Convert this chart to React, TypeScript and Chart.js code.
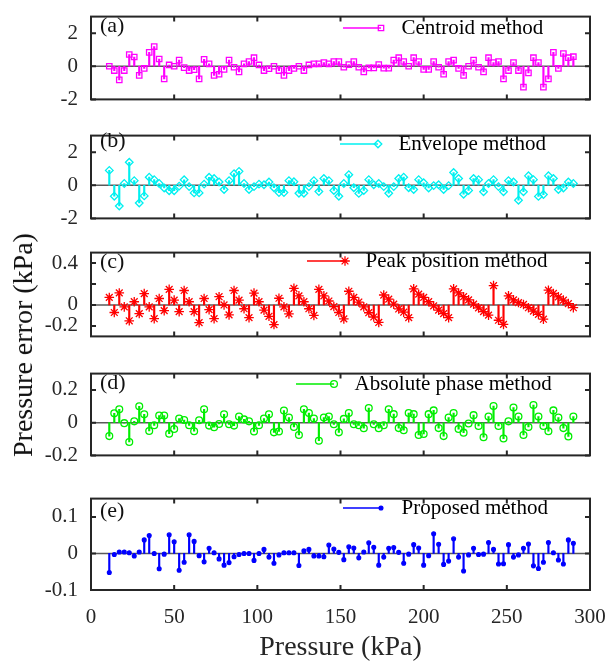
import React, { useEffect, useRef } from "react";
import { Chart, registerables } from "chart.js";
import { drawPoint } from "chart.js/helpers";

Chart.register(...registerables);

// ---------------- data ----------------
const PRESSURE = [
  11, 14, 17, 20, 23, 26, 29, 32, 35, 38, 41, 44, 47, 50, 53, 56, 59, 62, 65, 68,
  71, 74, 77, 80, 83, 86, 89, 92, 95, 98, 101, 104, 107, 110, 113, 116, 119, 122, 125, 128,
  131, 134, 137, 140, 143, 146, 149, 152, 155, 158, 161, 164, 167, 170, 173, 176, 179, 182, 185, 188,
  191, 194, 197, 200, 203, 206, 209, 212, 215, 218, 221, 224, 227, 230, 233, 236, 239, 242, 245, 248,
  251, 254, 257, 260, 263, 266, 269, 272, 275, 278, 281, 284, 287, 290,
];

const CENTROID = [
  0, -0.26, -0.82, -0.26, 0.71, 0.56, -0.55, -0.13, 0.84, 1.19, 0.44, -0.76, 0.08, 0, 0.37, -0.08,
  -0.26, -0.21, -0.76, 0.42, 0.15, -0.55, -0.48, -0.19, 0.37, -0.06, -0.34, 0.15, 0.29, 0.52, 0.08, -0.26,
  -0.15, 0, -0.26, -0.55, -0.26, -0.13, 0, -0.26, 0.08, 0.15, 0.15, 0.23, 0.15, 0.29, 0.29, -0.06,
  0.1, 0.29, -0.06, -0.34, -0.1, -0.1, 0.1, -0.11, -0.11, 0.37, 0.52, 0.29, 0, 0.52, 0.29, -0.19,
  -0.19, 0.29, -0.06, -0.48, 0.29, 0.37, -0.13, -0.55, 0, 0.37, -0.06, -0.34, 0.52, 0.23, 0.29, -0.76,
  -0.26, 0.23, -0.26, -1.26, -0.4, 0.52, 0.23, -1.26, -0.76, 0.84, -0.13, 0.77, 0.52, 0.58,
];

const ENVELOPE = [
  0.9, -0.66, -1.25, 0.11, 1.39, 0.28, -1.07, -0.64, 0.49, 0.34, 0.11, -0.16, -0.33, -0.33, -0.05, 0.33,
  -0.08, -0.46, -0.46, 0.07, 0.48, 0.41, 0.2, -0.25, 0.28, 0.7, 0.84, 0.11, -0.25, -0.08, 0.07, 0.03,
  0.2, -0.15, -0.44, -0.44, 0.28, 0.21, -0.48, -0.48, -0.08, 0.28, -0.38, 0.41, 0.28, -0.31, -0.66, 0.11,
  0.64, -0.15, -0.49, -0.31, 0.34, 0.03, 0.11, -0.08, -0.48, -0.08, 0.41, 0.49, -0.15, -0.25, 0.34, 0.15,
  -0.16, -0.02, 0.03, -0.25, -0.02, 0.77, 0.41, -0.54, -0.31, 0.41, 0.34, -0.39, 0.11, 0.34, -0.08, -0.39,
  0.28, 0.2, -0.9, -0.39, 0.57, 0.34, -0.67, -0.56, 0.57, 0.41, -0.25, -0.16, 0.2, 0.11,
];

const PEAK = [
  0.072, -0.072, 0.115, -0.018, -0.151, 0.031, -0.082, 0.108, -0.018, -0.131, 0.062, -0.054, 0.149, 0.046, -0.064, 0.138,
  0.031, -0.064, -0.169, 0.062, -0.044, -0.131, 0.079, 0, -0.095, 0.138, 0.046, -0.036, -0.121, 0.113, 0.031, -0.049,
  -0.108, -0.187, 0.064, -0.018, -0.085, 0.159, 0.087, 0.031, -0.036, -0.1, 0.149, 0.087, 0.038, -0.015, -0.072, -0.133,
  0.131, 0.072, 0.028, -0.018, -0.074, -0.115, -0.167, 0.095, 0.056, 0.008, -0.038, -0.069, -0.121, 0.154, 0.103, 0.072,
  0.031, -0.008, -0.049, -0.082, -0.121, 0.154, 0.115, 0.079, 0.049, 0.008, -0.028, -0.064, -0.097, 0.185, -0.146, -0.185,
  0.087, 0.049, 0.023, 0.005, -0.026, -0.059, -0.09, -0.136, 0.141, 0.11, 0.077, 0.046, 0.013, -0.026,
];

const PHASE = [
  -0.082, 0.057, 0.082, -0.003, -0.118, 0.008, 0.1, 0.051, -0.051, -0.016, 0.044, 0.044, -0.067, -0.039, 0.025, 0.016,
  -0.016, -0.052, 0.015, 0.082, -0.018, -0.028, -0.008, 0.051, -0.01, -0.018, 0.038, 0.02, 0.008, -0.054, -0.016, 0.025,
  0.051, -0.059, -0.054, 0.074, 0.031, -0.026, -0.075, 0.082, 0.059, 0.025, -0.11, 0.031, 0.038, -0.01, -0.059, 0.023,
  0.059, -0.01, -0.016, -0.034, 0.089, -0.01, -0.034, -0.016, 0.082, 0.052, -0.033, -0.046, 0.059, 0.052, -0.075, -0.069,
  0.052, 0.075, -0.033, -0.082, 0.031, 0.059, -0.039, -0.061, -0.005, 0.046, -0.02, -0.089, 0.038, 0.102, -0.02, -0.097,
  0.008, 0.093, 0.038, -0.075, -0.026, 0.108, 0.038, -0.02, -0.052, 0.075, 0.031, -0.033, -0.084, 0.038,
];

const PROPOSED = [
  -0.052, -0.003, 0.004, 0.004, 0.002, -0.007, 0.004, 0.037, 0.049, 0, -0.042, -0.002, 0.051, 0.032, -0.046, -0.024,
  0.051, 0.033, -0.006, -0.023, 0.014, 0.002, -0.015, -0.032, -0.025, -0.009, -0.003, 0, 0, -0.019, 0, 0.011,
  -0.01, -0.027, -0.004, 0.002, 0.002, 0.002, -0.033, 0.007, 0.011, -0.007, -0.007, -0.009, 0.023, 0.012, 0.003, -0.017,
  0.018, 0.015, -0.012, 0.004, 0.029, 0.017, -0.032, -0.01, 0.014, 0.016, 0.003, -0.027, -0.002, 0.024, 0.015, -0.032,
  -0.006, 0.054, 0.025, -0.03, -0.021, 0.04, -0.01, -0.048, -0.004, 0.014, -0.003, -0.002, 0.03, 0.011, -0.029, -0.028,
  0.024, -0.01, -0.004, 0.014, 0.026, -0.034, -0.041, -0.024, 0.03, 0.002, -0.018, -0.029, 0.037, 0.028,
];

const X_TICKS = [0, 50, 100, 150, 200, 250, 300];
const TICKS_A = [-2, 0, 2];
const TICKS_B = [-2, 0, 2];
const TICKS_C = [-0.2, 0, 0.2, 0.4];
const TICKS_D = [-0.2, 0, 0.2];
const TICKS_E = [-0.1, 0, 0.1];
const UNLABELED_C = [0.2];

const X_TITLE = "Pressure (kPa)";
const Y_TITLE = "Pressure error (kPa)";

// ---------------- style / layout ----------------
const SERIF = "'Liberation Serif', 'Times New Roman', Times, serif";
const INK = "#262626";
const PAGE_H = 664;
const CANVAS_W = 640;
const AREA_LEFT = 91;
const AREA_RIGHT = 590;
const PAD = 16;
const X_AXIS_H = 74;
const TICK_LEN = 5;
const TICK_FONT = 21;
const TITLE_FONT = 28;
const LEGEND_FONT = 21;
const LEGEND_PAD = 10;
const LEGEND_IMG_W = 48;

type PanelSpec = {
  id: string;
  tag: string;
  name: string;
  values: number[];
  color: string;
  marker: string;
  radius: number;
  filled: boolean;
  yMin: number;
  yMax: number;
  yTicks: number[];
  unlabeled: number[];
  areaTop: number;
  areaBottom: number;
  legendX: number;
  legendY: number;
  tagY: number;
};

const PANELS: PanelSpec[] = [
  { id: "a", tag: "(a)", name: "Centroid method", values: CENTROID, color: "#ff00ff", marker: "rect", radius: 3.8, filled: false,
    yMin: -2, yMax: 3, yTicks: TICKS_A, unlabeled: [], areaTop: 7, areaBottom: 109, legendX: 343, legendY: 28, tagY: 25 },
  { id: "b", tag: "(b)", name: "Envelope method", values: ENVELOPE, color: "#00f0f0", marker: "rectRot", radius: 3.8, filled: false,
    yMin: -2, yMax: 3, yTicks: TICKS_B, unlabeled: [], areaTop: 126, areaBottom: 228, legendX: 340, legendY: 144, tagY: 140 },
  { id: "c", tag: "(c)", name: "Peak position method", values: PEAK, color: "#ff0000", marker: "star", radius: 4.8, filled: false,
    yMin: -0.3, yMax: 0.5, yTicks: TICKS_C, unlabeled: UNLABELED_C, areaTop: 243, areaBottom: 346, legendX: 307, legendY: 261, tagY: 261 },
  { id: "d", tag: "(d)", name: "Absolute phase method", values: PHASE, color: "#00ee00", marker: "circle", radius: 3.4, filled: false,
    yMin: -0.2, yMax: 0.3, yTicks: TICKS_D, unlabeled: [], areaTop: 364, areaBottom: 465, legendX: 296, legendY: 384, tagY: 382 },
  { id: "e", tag: "(e)", name: "Proposed method", values: PROPOSED, color: "#0000ff", marker: "circle", radius: 1.9, filled: true,
    yMin: -0.1, yMax: 0.15, yTicks: TICKS_E, unlabeled: [], areaTop: 489, areaBottom: 590, legendX: 343, legendY: 508, tagY: 510 },
];

function geom(p: PanelSpec, isLast: boolean) {
  const top = p.areaTop - PAD;
  const height = isLast ? PAGE_H - top : p.areaBottom - p.areaTop + 2 * PAD;
  return { top, height };
}

function legendImage(p: PanelSpec): HTMLCanvasElement {
  const c = document.createElement("canvas");
  c.width = LEGEND_IMG_W;
  c.height = 16;
  const g = c.getContext("2d")!;
  g.strokeStyle = p.color;
  g.lineWidth = 1.5;
  g.beginPath();
  g.moveTo(0, 8);
  g.lineTo(38, 8);
  g.stroke();
  g.fillStyle = p.filled ? p.color : "rgba(0,0,0,0)";
  g.lineWidth = 1.3;
  drawPoint(g, { pointStyle: p.marker as any, radius: p.radius, rotation: 0, borderWidth: 1.3 } as any, 38, 8);
  return c;
}

const framePlugin = {
  id: "frameAndTicks",
  beforeDatasetsDraw(chart: any) {
    const { ctx, chartArea, scales } = chart;
    const y0 = scales.y.getPixelForValue(0);
    ctx.save();
    ctx.strokeStyle = "#5a5a5a";
    ctx.lineWidth = 1.5;
    ctx.beginPath();
    ctx.moveTo(chartArea.left, y0);
    ctx.lineTo(chartArea.right, y0);
    ctx.stroke();
    ctx.restore();
  },
  afterDraw(chart: any) {
    const { ctx, chartArea, scales } = chart;
    const { left, right, top, bottom } = chartArea;
    ctx.save();
    ctx.strokeStyle = INK;
    ctx.lineWidth = 2;
    ctx.beginPath();
    for (const t of scales.x.ticks) {
      const px = scales.x.getPixelForValue(t.value);
      ctx.moveTo(px, bottom);
      ctx.lineTo(px, bottom - TICK_LEN);
      ctx.moveTo(px, top);
      ctx.lineTo(px, top + TICK_LEN);
    }
    for (const t of scales.y.ticks) {
      const py = scales.y.getPixelForValue(t.value);
      ctx.moveTo(left, py);
      ctx.lineTo(left + TICK_LEN, py);
      ctx.moveTo(right, py);
      ctx.lineTo(right - TICK_LEN, py);
    }
    ctx.stroke();
    ctx.strokeRect(left, top, right - left, bottom - top);
    ctx.restore();
  },
};

function placeLegend(x: number, y: number) {
  return {
    id: "placeLegend",
    afterLayout(chart: any) {
      const lg = chart.legend;
      if (!lg) return;
      const w = lg.width;
      const h = lg.height;
      lg.left = x - LEGEND_PAD;
      lg.top = y - LEGEND_FONT / 2 - LEGEND_PAD;
      lg.right = lg.left + w;
      lg.bottom = lg.top + h;
    },
  };
}

function createPanel(canvas: HTMLCanvasElement, p: PanelSpec, isLast: boolean) {
  const g = geom(p, isLast);
  const pts = PRESSURE.map((x, i) => ({ x, y: p.values[i] }));
  const img = legendImage(p);
  const tickFont = { family: SERIF, size: TICK_FONT };
  return new Chart(canvas, {
    type: "scatter",
    data: {
      datasets: [
        {
          type: "scatter",
          label: p.name,
          data: pts,
          pointStyle: p.marker as any,
          pointRadius: p.radius,
          pointBorderWidth: 1.3,
          borderColor: p.color,
          backgroundColor: p.filled ? p.color : "rgba(0,0,0,0)",
        } as any,
        {
          type: "bar",
          label: p.name + " stem",
          data: pts,
          backgroundColor: p.color,
          borderWidth: 0,
          barThickness: 1.5,
          grouped: false,
        } as any,
      ],
    },
    options: {
      animation: false,
      responsive: false,
      devicePixelRatio: 1,
      events: [],
      layout: { padding: { left: 0, right: CANVAS_W - AREA_RIGHT, top: PAD, bottom: isLast ? 0 : PAD } },
      scales: {
        x: {
          type: "linear",
          min: 0,
          max: 300,
          offset: false,
          display: isLast,
          grid: { display: false, drawTicks: false },
          border: { display: false },
          afterBuildTicks: (s: any) => { s.ticks = X_TICKS.map((v) => ({ value: v })); },
          afterFit: (s: any) => { s.height = isLast ? X_AXIS_H : 0; },
          ticks: { font: tickFont, color: INK, padding: 15, maxRotation: 0, autoSkip: false, callback: (v: any) => String(v) },
          title: { display: true, text: X_TITLE, font: { family: SERIF, size: TITLE_FONT }, color: INK, padding: 0 },
        },
        y: {
          type: "linear",
          min: p.yMin,
          max: p.yMax,
          grid: { display: false, drawTicks: false },
          border: { display: false },
          afterBuildTicks: (s: any) => { s.ticks = p.yTicks.map((v) => ({ value: v })); },
          afterFit: (s: any) => { s.width = AREA_LEFT; },
          ticks: {
            font: tickFont,
            color: INK,
            padding: 13,
            autoSkip: false,
            callback: (v: any) => (p.unlabeled.includes(v) ? "" : String(v)),
          },
        },
      },
      plugins: {
        tooltip: { enabled: false },
        legend: {
          position: "chartArea",
          align: "start",
          labels: {
            usePointStyle: true,
            pointStyleWidth: LEGEND_IMG_W,
            padding: LEGEND_PAD,
            color: "#111",
            font: { family: SERIF, size: LEGEND_FONT },
            generateLabels: () => [
              { text: p.name, pointStyle: img, fillStyle: "rgba(0,0,0,0)", strokeStyle: "rgba(0,0,0,0)", lineWidth: 0, hidden: false, datasetIndex: 0 } as any,
            ],
          },
        } as any,
      },
    } as any,
    plugins: [framePlugin, placeLegend(p.legendX, p.legendY - g.top)],
  });
}

export default function App() {
  const refs = useRef<(HTMLCanvasElement | null)[]>([]);
  useEffect(() => {
    const charts = PANELS.map((p, i) => createPanel(refs.current[i]!, p, i === PANELS.length - 1));
    return () => charts.forEach((c) => c.destroy());
  }, []);
  return (
    <div style={{ position: "absolute", left: 0, top: 0, width: 606, height: PAGE_H, overflow: "hidden", background: "#fff", fontFamily: SERIF }}>
      {PANELS.map((p, i) => {
        const g = geom(p, i === PANELS.length - 1);
        return (
          <canvas
            key={p.id}
            ref={(el) => { refs.current[i] = el; }}
            width={CANVAS_W}
            height={g.height}
            style={{ position: "absolute", left: 0, top: g.top, width: CANVAS_W, height: g.height }}
          />
        );
      })}
      {PANELS.map((p) => (
        <div key={"tag" + p.id} style={{ position: "absolute", left: 100, top: p.tagY - 12, fontSize: 22, lineHeight: "24px", color: "#111", whiteSpace: "nowrap" }}>
          {p.tag}
        </div>
      ))}
      <div style={{ position: "absolute", left: 23, top: 345, transform: "translate(-50%, -50%) rotate(-90deg)", fontSize: TITLE_FONT, lineHeight: "32px", color: "#111", whiteSpace: "nowrap" }}>
        {Y_TITLE}
      </div>
    </div>
  );
}
